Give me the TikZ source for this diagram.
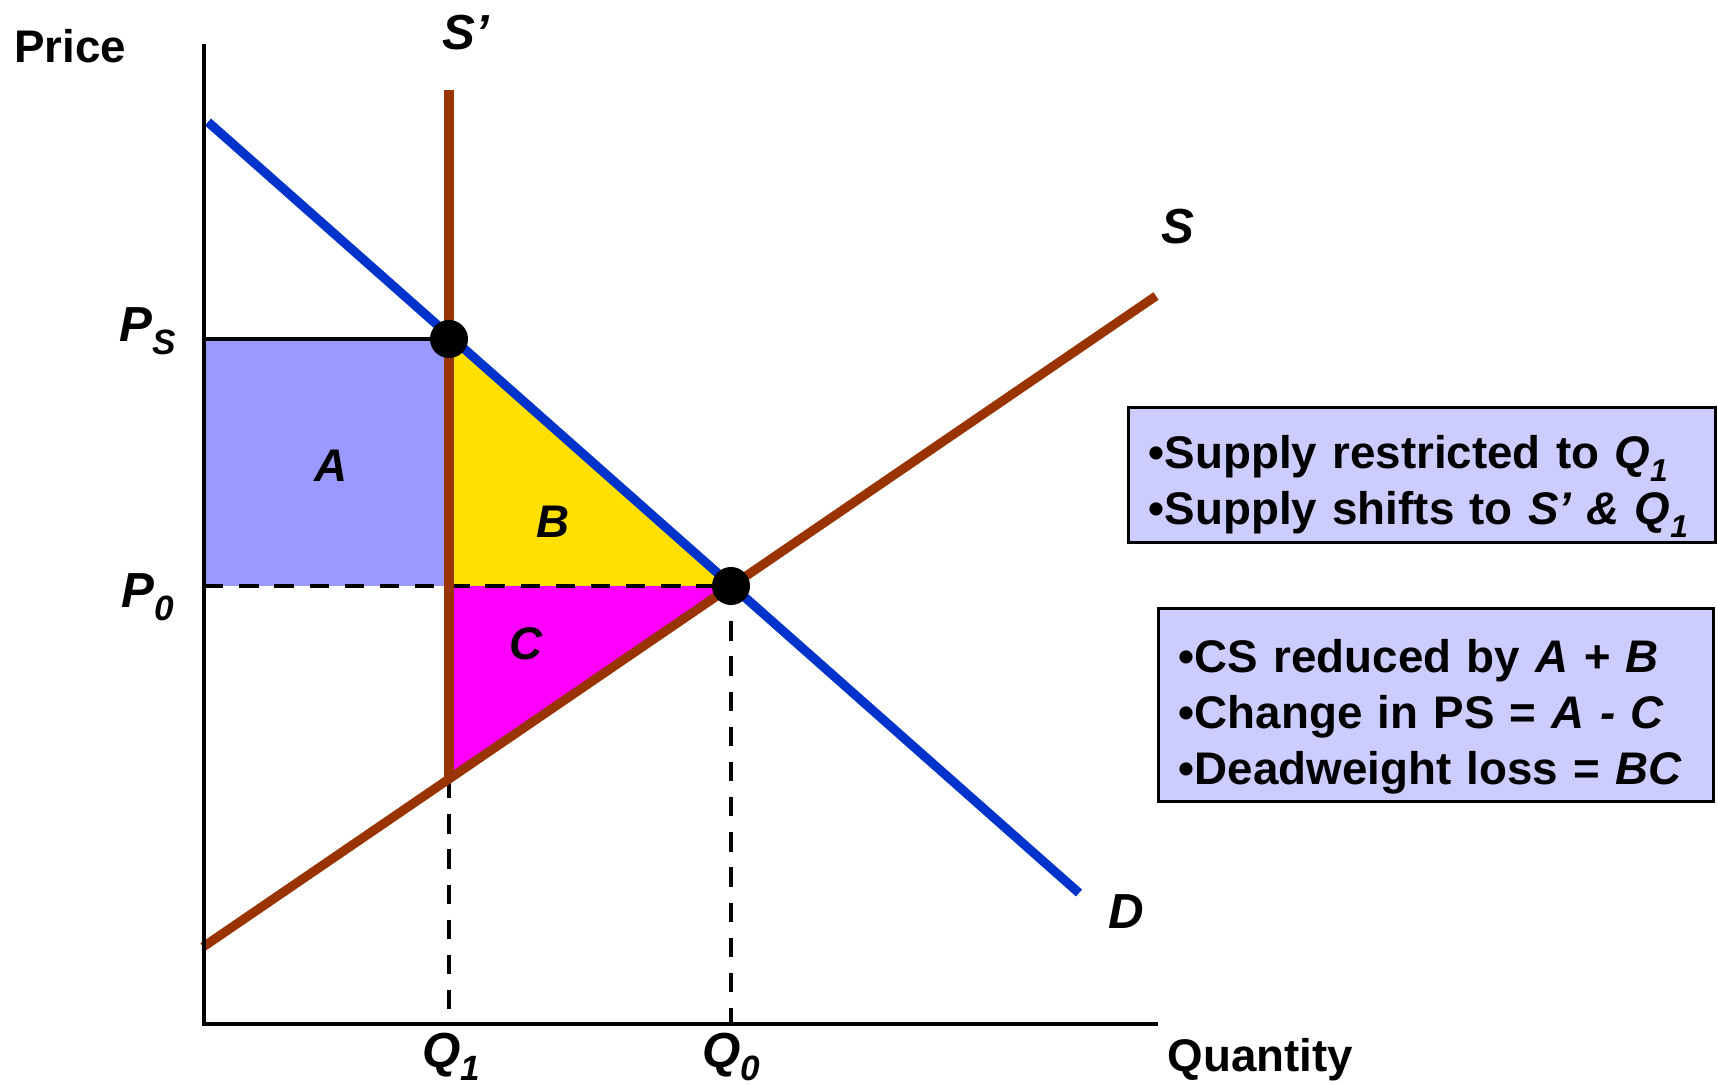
\documentclass[tikz,border=0pt]{standalone}
\usepackage{fontspec}
\setmainfont{Liberation Sans}
\usepackage{tikz}
\usetikzlibrary{positioning}
\usepackage{xcolor}
\definecolor{dblue}{RGB}{0,51,204}
\definecolor{sbrown}{RGB}{153,51,0}
\definecolor{areaA}{RGB}{153,153,255}
\definecolor{areaB}{RGB}{255,224,0}
\definecolor{areaC}{RGB}{255,0,255}
\definecolor{boxfill}{RGB}{204,204,255}
\newcommand{\lowix}[2][10]{\raisebox{-3.8pt}{\fontsize{#1}{#1}\selectfont #2}}

\begin{document}
\begin{tikzpicture}[x=0.01cm, y=-0.01cm,
  axis/.style={line width=1.3pt},
  guide/.style={line width=1.3pt, dash pattern=on 5.5pt off 4.5pt},
  curve/.style={line width=2.6pt},
  dot/.style={circle, fill=black, inner sep=0pt, minimum size=0.38cm},
  tag/.style={font=\fontsize{14}{16}\selectfont\bfseries\itshape, inner sep=0pt},
  area/.style={font=\fontsize{13}{15}\selectfont\bfseries\itshape, inner sep=0pt},
  axname/.style={font=\fontsize{13}{15}\selectfont\bfseries, inner sep=0pt},
  infobox/.style={draw, line width=0.9pt, fill=boxfill, align=left,
                  font=\fontsize{13}{16}\selectfont\bfseries,
                  inner xsep=0.2cm, inner ysep=0pt},
  ]
  \useasboundingbox (0,0) rectangle (1718,1085);

  \coordinate (origin) at (204,1024);
  \coordinate (ytop) at (204,44);
  \coordinate (xend) at (1158,1024);
  \coordinate (ps) at (449,339);
  \coordinate (pz) at (731,586);
  \coordinate (psaxis) at (204,339);
  \coordinate (pzaxis) at (204,586);
  \coordinate (pzcut) at (449,586);
  \coordinate (kink) at (449,779);
  \coordinate (qone) at (449,1024);
  \coordinate (qzero) at (731,1024);
  \coordinate (stop) at (449,90);
  \coordinate (dstart) at (208,122);
  \coordinate (dend) at (1079,893);
  \coordinate (sstart) at (203,947);
  \coordinate (send) at (1156,296);

  \fill[areaA] (psaxis) rectangle (pzcut);
  \fill[areaB] (ps) -- (pzcut) -- (pz) -- cycle;
  \fill[areaC] (pzcut) -- (pz) -- (kink) -- cycle;

  \draw[axis] (psaxis) -- (ps);
  \draw[guide] (pzaxis) -- (pz);
  \draw[guide] (kink) -- (qone);
  \draw[guide] (pz) -- (qzero);
  \draw[curve, sbrown] (sstart) -- (send);
  \draw[curve, sbrown] (stop) -- (kink);
  \draw[curve, dblue] (dstart) -- (dend);
  \draw[axis] (ytop) -- (origin) -- (xend);

  \node[dot] (psdot) at (ps) {};
  \node[dot] (pzdot) at (pz) {};

  \node[axname] (price) at (70,46) {Price};
  \node[axname, anchor=west] (quantity) at (1167,1060) {Quantity};
  \node[tag] (qonelbl) at (451,1057) {Q\lowix{1}};
  \node[tag] (qzerolbl) at (731,1057) {Q\lowix{0}};
  \node[tag] (pslbl) at (148,331) {P\lowix{S}};
  \node[tag] (pzlbl) at (148,597) {P\lowix{0}};
  \node[tag] (sprime) at (466,33) {S’};
  \node[tag] (slbl) at (1178,227) {S};
  \node[tag] (dlbl) at (1126,912) {D};
  \node[area] (alb) at (331,466) {A};
  \node[area] (blb) at (553,522) {B};
  \node[area] (clb) at (526,644) {C};

  \node[infobox, minimum width=5.86cm, minimum height=1.35cm, text width=5.46cm]
    (restrict) at (1422,475)
    {\rule{0pt}{16pt}•Supply restricted to \textit{Q\lowix[9]{1}}\\
     •Supply shifts to \textit{S’ \& Q\lowix[9]{1}}};
  \node[infobox, minimum width=5.54cm, minimum height=1.93cm, text width=5.14cm]
    (effects) at (1436,705)
    {\rule{0pt}{16pt}•CS reduced by \textit{A + B}\\
     •Change in PS = \textit{A - C}\\
     •Deadweight loss = \textit{BC}};
\end{tikzpicture}
\end{document}
